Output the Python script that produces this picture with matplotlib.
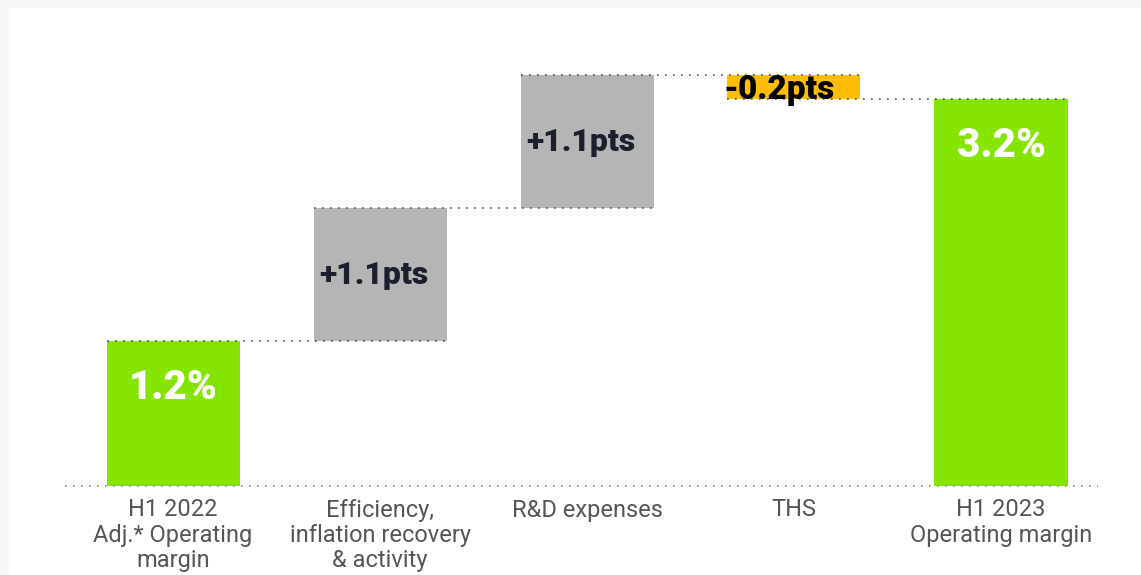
import matplotlib
matplotlib.use("Agg")
import matplotlib.pyplot as plt
from matplotlib.patches import Rectangle

# data
categories = ["H1 2022\nAdj.* Operating\nmargin",
              "Efficiency,\ninflation recovery\n& activity",
              "R&D expenses",
              "THS",
              "H1 2023\nOperating margin"]
steps = [1.2, 1.1, 1.1, -0.2, 3.2]
kinds = ["total", "delta", "delta", "delta", "total"]
value_labels = ["1.2%", "+1.1pts", "+1.1pts", "-0.2pts", "3.2%"]

GREEN = "#86E500"
GREY = "#B5B5B5"
YELLOW = "#FCBE00"
DOT = "#3F5468"

fig = plt.figure(figsize=(11.41, 5.75), dpi=100, facecolor="#F8F8F8")
fig.patches.append(Rectangle((9 / 1141, 0), 1, 1 - 8 / 575,
                             transform=fig.transFigure, facecolor="white",
                             edgecolor="none", zorder=-10))

ax = fig.add_axes([0, 89 / 575, 1, 486 / 575], zorder=1)
ax.set_facecolor("none")
px_x = 207.0   # pixels per category
px_y = 120.8   # pixels per percentage point
ax.set_xlim(-173 / px_x, (1141 - 173) / px_x)
ax.set_ylim(0, 486 / px_y)
for s in ax.spines.values():
    s.set_visible(False)
ax.tick_params(length=0)
ax.set_yticks([])

width = 133 / px_x
bottoms, tops = [], []
running = 0.0
for k, v in zip(kinds, steps):
    if k == "total":
        b, t = 0.0, v
        running = v
    else:
        b, t = running, running + v
        running = t
    bottoms.append(min(b, t))
    tops.append(max(b, t))

colors = []
for k, v in zip(kinds, steps):
    if k == "total":
        colors.append(GREEN)
    elif v >= 0:
        colors.append(GREY)
    else:
        colors.append(YELLOW)

xs = list(range(len(categories)))
ax.bar(xs, [t - b for b, t in zip(bottoms, tops)], bottom=bottoms,
       width=width, color=colors, zorder=2)

# baseline
ax.plot([-108 / px_x, (1098 - 173) / px_x], [0, 0], color="#8A8A8A",
        lw=1.2, ls=(0, (1, 3.8)), zorder=3, clip_on=False)

# connectors: level after each bar, from left of bar i to right of bar i+1
level = 0.0
for i in range(len(steps) - 1):
    level = steps[i] if kinds[i] == "total" else level + steps[i]
    ax.plot([i - width / 2, i + 1 + width / 2], [level, level], color=DOT,
            lw=1.2, ls=(0, (1, 3.8)), zorder=3)

# value labels
for i, (lab, k, v) in enumerate(zip(value_labels, kinds, steps)):
    if k == "total":
        ax.text(i, tops[i] - 46 / px_y, lab, ha="center", va="center",
                color="white", fontsize=29, fontweight="black",
                family="Roboto", zorder=4)
    elif v >= 0:
        ax.text(i - 0.03, (tops[i] + bottoms[i]) / 2, lab, ha="center",
                va="center", color="#1B1F2E", fontsize=23, fontweight="black",
                family="Roboto", zorder=4)
    else:
        ax.text(i - 0.07, (tops[i] + bottoms[i]) / 2 - 3 / px_y, lab,
                ha="center", va="center", color="black", fontsize=24,
                fontweight="black", family="Roboto", zorder=4)

ax.set_xticks(xs)
ax.set_xticklabels(categories, fontsize=17, color="#555555", family="Roboto",
                   linespacing=1.12)
ax.tick_params(axis="x", pad=9)

fig.savefig("out.png", dpi=100, facecolor=fig.get_facecolor())
